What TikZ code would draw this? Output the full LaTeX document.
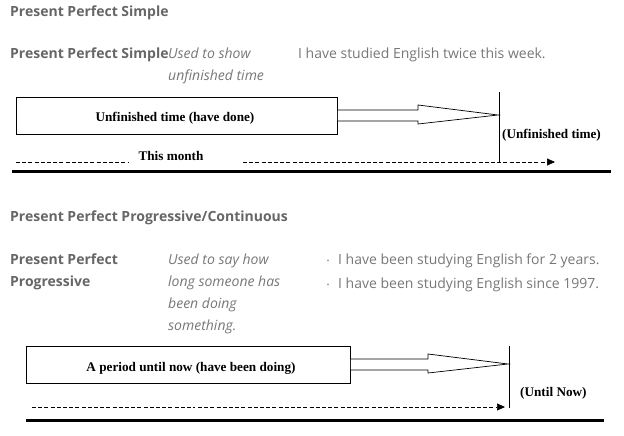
\documentclass[tikz,border=0pt]{standalone}
\usepackage{fontspec}
\setmainfont{Open Sans}
\newfontfamily\tms{Liberation Serif}
\usetikzlibrary{arrows.meta}
\definecolor{headgray}{HTML}{666666}
\definecolor{bodygray}{HTML}{777777}
\tikzset{
  head/.style={anchor=base west, inner sep=0pt, text=headgray,
    font=\fontsize{14}{16}\selectfont\bfseries},
  body/.style={anchor=base west, inner sep=0pt, text=bodygray,
    font=\fontsize{14}{16}\selectfont},
  note/.style={body, font=\fontsize{14}{16}\selectfont\itshape},
  spanbox/.style={draw, line width=0.8pt, inner sep=0pt},
  blockarrow/.style={draw, line width=0.7pt, fill=white},
  label/.style={inner sep=0pt, font=\tms\fontsize{13.2}{15}\selectfont\bfseries},
  nowline/.style={line width=0.8pt},
  timeline/.style={dashed, dash pattern=on 4pt off 2.2pt, line width=0.7pt},
  timeend/.style={-{Triangle[length=8pt,width=7pt]}},
  baseline/.style={line width=3pt}
}
\begin{document}
\begin{tikzpicture}[x=1pt,y=-1pt]
\useasboundingbox (0,0) rectangle (624,436);

% ---------- Present Perfect Simple ----------
\node[head] (t1) at (10,17) {Present Perfect Simple};
\node[head] (n1) at (10,59) {Present Perfect Simple};
\node[note] (u1a) at (168,59) {Used to show};
\node[note] (u1b) at (168,81) {unfinished time};
\node[body] (e1) at (298,59) {I have studied English twice this week.};

\node[spanbox, minimum width=321pt, minimum height=37pt, anchor=north west]
  (box1) at (16,97) {};
\node[label] (box1t) at (175,118) {Unfinished time (have done)};
\coordinate (now1top) at (499,92);
\coordinate (now1bot) at (499,162);
\draw[nowline] (now1top) -- (now1bot);
\draw[blockarrow] (box1.east |- 0,110) -- (418,110) -- (418,105) -- (498,115)
  -- (418,124) -- (418,121) -- (box1.east |- 0,121);
\node[label, anchor=west] (unf) at (502,135) {(Unfinished time)};

\coordinate (d1a) at (16,162);
\coordinate (d1b) at (128,162);
\coordinate (d1c) at (243,162);
\coordinate (d1d) at (555,162);
\draw[timeline] (d1a) -- (d1b);
\node[label] (month) at (171,156) {This month};
\draw[timeline, timeend] (d1c) -- (d1d);
\coordinate (b1a) at (12,171);
\coordinate (b1b) at (611,171);
\draw[baseline] (b1a) -- (b1b);

% ---------- Present Perfect Progressive ----------
\node[head] (t2) at (10,221) {Present Perfect Progressive/Continuous};
\node[head] (n2a) at (10,264) {Present Perfect};
\node[head] (n2b) at (10,286) {Progressive};
\node[note] (u2a) at (168,264) {Used to say how};
\node[note] (u2b) at (168,286) {long someone has};
\node[note] (u2c) at (168,308) {been doing};
\node[note] (u2d) at (168,330) {something.};
\node[body, text=headgray] (dot1) at (326,264) {$\cdot$};
\node[body] (e2a) at (338,264) {I have been studying English for 2 years.};
\node[body, text=headgray] (dot2) at (326,288) {$\cdot$};
\node[body] (e2b) at (338,288) {I have been studying English since 1997.};

\node[spanbox, minimum width=324pt, minimum height=37pt, anchor=north west]
  (box2) at (26,346) {};
\node[label] (box2t) at (191,368) {A period until now (have been doing)};
\coordinate (now2top) at (509,346);
\coordinate (now2bot) at (509,408);
\draw[nowline] (now2top) -- (now2bot);
\draw[blockarrow] (box2.east |- 0,359) -- (428,359) -- (428,354) -- (508,364)
  -- (428,373) -- (428,370) -- (box2.east |- 0,370);
\node[label, anchor=west] (until) at (520,393) {(Until Now)};

\coordinate (d2a) at (32,407);
\coordinate (d2b) at (195,407);
\coordinate (d2c) at (198,407);
\coordinate (d2d) at (505,407);
\draw[timeline] (d2a) -- (d2b);
\draw[timeline, timeend] (d2c) -- (d2d);
\coordinate (b2a) at (26,420);
\coordinate (b2b) at (604,420);
\draw[baseline] (b2a) -- (b2b);
\end{tikzpicture}
\end{document}
